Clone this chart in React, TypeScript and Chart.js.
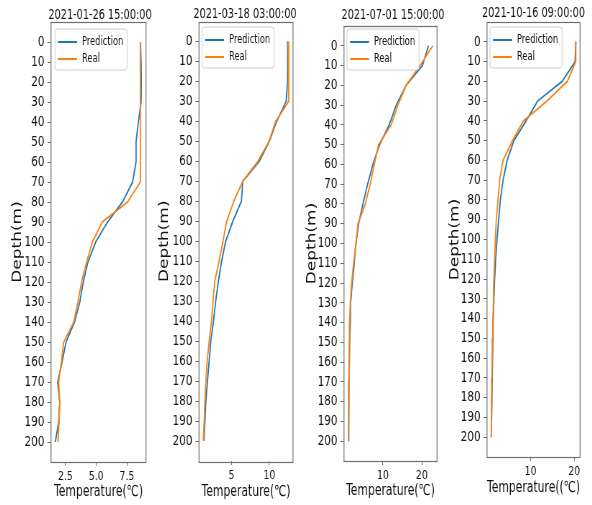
import React, { useEffect, useRef } from 'react';
import { Chart, registerables } from 'chart.js';

Chart.register(...registerables);

// ---------------- data ----------------
const depths = [0, 10, 20, 30, 40, 50, 60, 70, 80, 90, 100, 110, 120, 130, 140, 150, 160, 170, 180, 190, 200];
const depthTicks = [0, 10, 20, 30, 40, 50, 60, 70, 80, 90, 100, 110, 120, 130, 140, 150, 160, 170, 180, 190, 200];

const titles = ['2021-01-26 15:00:00', '2021-03-18 03:00:00', '2021-07-01 15:00:00', '2021-10-16 09:00:00'];
const xLabels = ['Temperature(℃)', 'Temperature(℃)', 'Temperature(℃)', 'Temperature((℃)'];
const yLabel = 'Depth(m)';
const seriesNames = ['Prediction', 'Real'];

const pred1 = [8.59, 8.65, 8.67, 8.65, 8.43, 8.24, 8.24, 7.96, 7.14, 5.92, 4.96, 4.33, 3.95, 3.67, 3.24, 2.55, 2.23, 1.87, 2.04, 1.95, 1.68];
const real1 = [8.59, 8.59, 8.59, 8.59, 8.59, 8.59, 8.59, 8.59, 7.55, 5.5, 4.69, 4.22, 3.81, 3.51, 3.18, 2.36, 2.17, 1.95, 2.04, 1.98, 1.9];

const pred2 = [12.4, 12.4, 12.4, 12.22, 10.96, 10.0, 8.66, 6.48, 6.31, 5.17, 4.22, 3.69, 3.26, 2.91, 2.61, 2.26, 2.04, 1.82, 1.61, 1.48, 1.34];
const real2 = [12.48, 12.53, 12.57, 12.57, 10.83, 9.96, 8.48, 6.48, 5.3, 4.35, 3.87, 3.35, 2.78, 2.56, 2.35, 2.04, 1.78, 1.61, 1.48, 1.39, 1.26];

const pred3 = [21.7, 20.16, 15.97, 13.41, 11.62, 9.14, 7.43, 6.06, 4.86, 3.75, 3.07, 2.64, 2.13, 1.7, 1.62, 1.44, 1.36, 1.27, 1.27, 1.19, 1.19];
const real3 = [22.81, 19.56, 15.97, 13.84, 12.13, 8.88, 7.77, 6.74, 5.46, 3.58, 3.07, 2.47, 1.96, 1.62, 1.44, 1.44, 1.36, 1.27, 1.19, 1.19, 1.1];

const pred4 = [20.35, 20.19, 17.25, 11.59, 8.95, 6.16, 4.61, 3.68, 3.06, 2.67, 2.29, 1.98, 1.74, 1.59, 1.43, 1.36, 1.28, 1.2, 1.12, 1.05, 0.97];
const real4 = [20.35, 20.35, 18.41, 13.76, 8.33, 5.85, 3.68, 2.91, 2.52, 2.13, 1.9, 1.74, 1.59, 1.51, 1.36, 1.28, 1.2, 1.12, 1.05, 1.05, 0.97];

const xTicks1 = [2.5, 5.0, 7.5];
const xTicks2 = [5, 10];
const xTicks3 = [10, 20];
const xTicks4 = [10, 20];

const xMins = [1.33, 0.7, 0.0, 0.0];
const xMaxs = [9.05, 13.13, 23.9, 21.32];
const yMin = -10;
const yMax = 210;

// ---------------- layout ----------------
const SX0 = 0.72; // horizontal compression of the reference image
const H = 505;
const FONT = '"DejaVu Sans", sans-serif';
const BLUE = '#1f77b4';
const ORANGE = '#ff7f0e';
const SPINE = '#6e6e6e';

type PanelLayout = {
  left: number; width: number;
  boxL: number; boxR: number; boxT: number; boxB: number;
  yLabelX: number; xLabelY: number;
  titleX: number; titleY: number;
  legX: number; legY: number;
  decimals: number;
};

const layouts: PanelLayout[] = [
  { left: 0, width: 152, boxL: 51, boxR: 146, boxT: 22, boxB: 462, yLabelX: 18, xLabelY: 491.7, titleX: 100, titleY: 15, legX: 55, legY: 29, decimals: 1 },
  { left: 152, width: 144, boxL: 199, boxR: 293, boxT: 21.5, boxB: 461, yLabelX: 165, xLabelY: 492, titleX: 245, titleY: 14, legX: 202, legY: 27, decimals: 0 },
  { left: 296, width: 148, boxL: 344, boxR: 437, boxT: 26, boxB: 461, yLabelX: 312, xLabelY: 491, titleX: 393, titleY: 15, legX: 347, legY: 29, decimals: 0 },
  { left: 444, width: 148, boxL: 487, boxR: 580, boxT: 22, boxB: 457, yLabelX: 455, xLabelY: 488, titleX: 533.5, titleY: 13, legX: 490, legY: 27, decimals: 0 },
];

const predSeries = [pred1, pred2, pred3, pred4];
const realSeries = [real1, real2, real3, real4];
const xTickSets = [xTicks1, xTicks2, xTicks3, xTicks4];

// Plugin: matplotlib-like frame, title and legend
const mplPlugin = {
  id: 'mpl',
  afterDatasetsDraw(chart: any, _args: any, opts: any) {
    const { ctx, chartArea: a } = chart;
    const sx = opts.sx;
    ctx.save();
    // spines
    ctx.strokeStyle = SPINE;
    ctx.lineWidth = 1.2;
    ctx.strokeRect(a.left, Math.round(a.top) + 0.5, a.right - a.left, Math.round(a.bottom - a.top));

    // legend
    const fx = opts.legX, fy = opts.legY, fw = 72 / sx, fh = 41, r = 3;
    ctx.beginPath();
    ctx.moveTo(fx + r, fy);
    ctx.lineTo(fx + fw - r, fy);
    ctx.quadraticCurveTo(fx + fw, fy, fx + fw, fy + r);
    ctx.lineTo(fx + fw, fy + fh - r);
    ctx.quadraticCurveTo(fx + fw, fy + fh, fx + fw - r, fy + fh);
    ctx.lineTo(fx + r, fy + fh);
    ctx.quadraticCurveTo(fx, fy + fh, fx, fy + fh - r);
    ctx.lineTo(fx, fy + r);
    ctx.quadraticCurveTo(fx, fy, fx + r, fy);
    ctx.closePath();
    ctx.fillStyle = 'rgba(255,255,255,0.8)';
    ctx.fill();
    ctx.strokeStyle = '#cccccc';
    ctx.lineWidth = 1;
    ctx.stroke();

    const rows = [13, 30];
    chart.data.datasets.forEach((ds: any, i: number) => {
      const y = fy + rows[i];
      ctx.beginPath();
      ctx.strokeStyle = ds.borderColor;
      ctx.lineWidth = 2;
      ctx.moveTo(fx + 3 / sx, y);
      ctx.lineTo(fx + 22 / sx, y);
      ctx.stroke();
      ctx.fillStyle = '#111';
      ctx.font = `11.5px ${FONT}`;
      ctx.textAlign = 'left';
      ctx.textBaseline = 'middle';
      ctx.fillText(ds.label, fx + 27 / sx, y);
    });

    // title
    ctx.fillStyle = '#111';
    ctx.font = `13.5px ${FONT}`;
    ctx.textAlign = 'center';
    ctx.textBaseline = 'middle';
    ctx.fillText(opts.title, opts.titleX, opts.titleY);
    ctx.restore();
  },
};

function canvasWidth(p: PanelLayout) {
  return Math.round(p.width / SX0);
}

export default function App() {
  const refs = useRef<(HTMLCanvasElement | null)[]>([]);

  useEffect(() => {
    const charts: Chart[] = [];
    layouts.forEach((p, idx) => {
      const canvas = refs.current[idx];
      if (!canvas) return;
      const w = canvasWidth(p);
      const sx = p.width / w;
      const xTicks = xTickSets[idx];
      const pred = predSeries[idx];
      const real = realSeries[idx];
      const chart = new Chart(canvas, {
        type: 'line',
        data: {
          datasets: [
            {
              label: seriesNames[0],
              data: depths.map((d, i) => ({ x: pred[i], y: d })),
              borderColor: BLUE,
              backgroundColor: BLUE,
              borderWidth: 1.8,
              pointRadius: 0,
              fill: false,
              tension: 0,
              order: 1,
            },
            {
              label: seriesNames[1],
              data: depths.map((d, i) => ({ x: real[i], y: d })),
              borderColor: ORANGE,
              backgroundColor: ORANGE,
              borderWidth: 1.8,
              pointRadius: 0,
              fill: false,
              tension: 0,
              order: 0,
            },
          ],
        },
        options: {
          responsive: false,
          maintainAspectRatio: false,
          animation: false,
          events: [],
          layout: {
            padding: {
              left: 0,
              right: (p.left + p.width - p.boxR) / sx,
              top: p.boxT,
              bottom: 0,
            },
          },
          plugins: {
            legend: { display: false },
            tooltip: { enabled: false },
            title: { display: false },
            mpl: {
              sx,
              title: titles[idx],
              titleX: (p.titleX - p.left) / sx,
              titleY: p.titleY,
              legX: (p.legX - p.left) / sx,
              legY: p.legY,
            },
          } as any,
          scales: {
            x: {
              type: 'linear',
              position: 'bottom',
              min: xMins[idx],
              max: xMaxs[idx],
              afterBuildTicks: (s: any) => {
                s.ticks = xTicks.map((v) => ({ value: v }));
              },
              afterFit: (s: any) => {
                s.height = H - p.boxB;
              },
              grid: { display: true, drawOnChartArea: false, drawTicks: true, tickLength: 4, tickColor: SPINE },
              border: { display: false },
              ticks: {
                font: { family: FONT, size: 13 },
                color: '#111',
                padding: 3,
                autoSkip: false,
                maxRotation: 0,
                callback: (v: any) => (p.decimals ? Number(v).toFixed(p.decimals) : String(v)),
              },
              title: {
                display: true,
                text: xLabels[idx],
                color: '#111',
                font: { family: FONT, size: 15 },
                padding: { top: 0, bottom: H - p.xLabelY - 9 },
              },
            },
            y: {
              type: 'linear',
              reverse: true,
              min: yMin,
              max: yMax,
              afterBuildTicks: (s: any) => {
                s.ticks = depthTicks.map((v) => ({ value: v }));
              },
              afterFit: (s: any) => {
                s.width = (p.boxL - p.left) / sx;
              },
              grid: { display: true, drawOnChartArea: false, drawTicks: true, tickLength: 5, tickColor: SPINE },
              border: { display: false },
              ticks: {
                font: { family: FONT, size: 14.5 },
                color: '#111',
                padding: 4,
                autoSkip: false,
              },
              title: {
                display: true,
                text: yLabel,
                color: '#111',
                font: { family: FONT, size: 17 },
                padding: { top: Math.max(0, (p.yLabelX - p.left) / sx - 10.2), bottom: 0 },
              },
            },
          },
        },
        plugins: [mplPlugin as any],
      });
      charts.push(chart);
    });
    return () => {
      charts.forEach((c) => c.destroy());
    };
  }, []);

  return (
    <div style={{ position: 'fixed', left: 0, top: 0, width: 592, height: H, background: '#fff', overflow: 'hidden' }}>
      {layouts.map((p, idx) => {
        const w = canvasWidth(p);
        const sx = p.width / w;
        return (
          <div
            key={idx}
            style={{
              position: 'absolute',
              left: p.left,
              top: 0,
              width: w,
              height: H,
              transform: `scaleX(${sx})`,
              transformOrigin: '0 0',
            }}
          >
            <canvas
              ref={(el) => {
                refs.current[idx] = el;
              }}
              width={w}
              height={H}
              style={{ width: w, height: H, display: 'block' }}
            />
          </div>
        );
      })}
    </div>
  );
}
